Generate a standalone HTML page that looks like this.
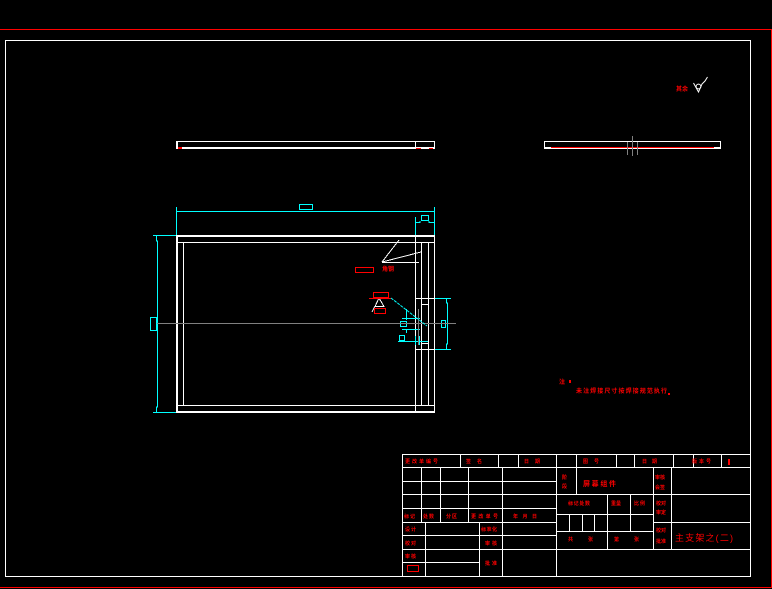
<!DOCTYPE html>
<html><head><meta charset="utf-8"><style>
html,body{margin:0;padding:0;background:#000;width:772px;height:589px;overflow:hidden}
svg{display:block}
text{font-family:"Liberation Sans","Noto Sans CJK SC",sans-serif;font-size:5px;fill:#f00;font-weight:700}
.w{stroke:#fff;fill:none}
.c{stroke:#0ff;fill:none}
.r{stroke:#f00;fill:none}
.g{stroke:#808080;fill:none}
</style></head><body>
<svg width="772" height="589" viewBox="0 0 772 589" xmlns="http://www.w3.org/2000/svg">
<rect width="772" height="589" fill="#000"/>
<g shape-rendering="crispEdges">
<path class="r" d="M0 29.5H771.5V587.5H0"/>
<rect class="w" x="5.5" y="40.5" width="745" height="536"/>

<!-- top view -->
<path class="w" d="M176 141.5H435M434.5 141V149M415.5 141V147"/>
<rect x="176" y="141" width="2" height="8" fill="#fff"/>
<rect x="176" y="147" width="259" height="2" fill="#fff"/>
<rect x="178" y="147" width="4" height="2" fill="#f00"/>
<rect x="416" y="148" width="5" height="1" fill="#f00"/>
<rect x="429" y="148" width="4" height="1" fill="#f00"/>

<!-- side view -->
<path class="w" d="M544 141.5H721M544.5 141V149M720.5 141V149M544 148.5H721M544 147.5H551M714 147.5H721"/>
<rect x="551" y="147" width="163" height="1" fill="#f00"/>
<path class="g" d="M627.5 142V155M632.5 136V156M637.5 142V155"/>

<!-- frame -->
<rect x="176" y="235" width="259" height="2" fill="#fff"/>
<rect x="176" y="411" width="259" height="2" fill="#fff"/>
<rect x="176" y="235" width="2" height="178" fill="#fff"/>
<path class="w" d="M434.5 235V413M178 242.5H434M183.5 242V405M178 405.5H434M415.5 237V411M421.5 242V405M428.5 242V405M415 298.5H434M421 304.5H428M421 343.5H428M415 349.5H434"/>

<!-- leaders -->
<path class="w" d="M382 262.5H419M382 262L399 240M382 262L421 252"/>
<path class="w" d="M379 298L384 306.5H375L379 298M375 306L372 312"/>

<!-- red rectangles -->
<rect class="r" x="355.5" y="267.5" width="18" height="5"/>
<rect class="r" x="373.5" y="292.5" width="15" height="5"/>
<path class="r" d="M369 298.5H391"/>
<rect class="r" x="374.5" y="308.5" width="11" height="5"/>
<rect class="r" x="407.5" y="565.5" width="11" height="6"/>

<!-- dims cyan -->
<path class="c" d="M176.5 207V235M434.5 207V235M177 211.5H434M415.5 217V235M415 222.5H420V221M429 221V222.5H434"/>
<rect class="c" x="299.5" y="204.5" width="13" height="5"/>
<rect class="c" x="421.5" y="215.5" width="7" height="5"/>
<path class="c" d="M153 235.5H176M153 412.5H176M156.5 236V241H157.5V407H156.5V412"/>
<rect class="c" x="150.5" y="317.5" width="6" height="13"/>
<path class="c" d="M435 298.5H451M435 349.5H451M446.5 299V303H447.5V344H446.5V349"/>
<rect class="c" x="441.5" y="320.5" width="4" height="7"/>
<path class="c" d="M402 318.5H420M402 329.5H420M398 341.5H428M406.5 309V320M406.5 330V333M415.5 336V345M419.5 336V345"/>
<rect class="c" x="400.5" y="321.5" width="6" height="5"/>
<rect class="c" x="399.5" y="335.5" width="5" height="5"/>

<!-- centre lines -->
<path class="g" d="M157 323.5H456M418.5 309V345"/>
</g>
<path d="M391 298L427 326" stroke="#0ff" stroke-width="1" stroke-dasharray="3 1" fill="none"/>

<!-- surface mark -->
<path class="w" d="M693.5 83L698.5 92L702 84L705 81L707.5 77" stroke-width="1"/>
<circle class="w" cx="698.5" cy="86.5" r="2.4"/>
<text x="676" y="91" textLength="12" lengthAdjust="spacing" style="font-size:6px">其余</text>

<!-- labels near frame -->
<text x="382" y="271" textLength="12" lengthAdjust="spacing" style="font-size:6px">角钢</text>
<text x="559" y="384" style="font-size:6px">注</text>
<rect x="569" y="380" width="2" height="3" fill="#f00"/>
<text x="576" y="393" textLength="91" lengthAdjust="spacing" style="font-size:6px">未注焊接尺寸按焊接规范执行</text>
<rect x="668" y="393" width="2" height="2" fill="#f00"/>

<!-- title block -->
<g shape-rendering="crispEdges">
<path class="w" d="
M402.5 454.5V576M402 454.5H750M402 467.5H750
M402 481.5H556M402 494.5H750M402 508.5H556M402 522.5H556M402 535.5H556M402 549.5H750M402 562.5H479
M556 514.5H653M556 531.5H653M653 522.5H750
M460.5 454V467M498.5 454V467M518.5 454V467M556.5 454V576M576.5 454V494
M616.5 454V467M634.5 454V467M673.5 454V467M693.5 454V467M721.5 454V467
M421.5 467V522M440.5 467V522M468.5 467V522M502.5 467V576
M425.5 522V576M479.5 522V576
M569.5 514V531M582.5 514V531M594.5 514V531M607.5 494V549M630.5 494V531
M653.5 467V549M671.5 467V549"/>
</g>
<g>
<text x="405" y="463" textLength="33" lengthAdjust="spacing">更改单编号</text>
<text x="466" y="463">签</text><text x="477" y="463">名</text>
<text x="524" y="463">日</text><text x="535" y="463">期</text>
<text x="583" y="463">图</text><text x="594" y="463">号</text>
<text x="642" y="463">日</text><text x="652" y="463">期</text>
<text x="692" y="463" textLength="19" lengthAdjust="spacing">版本号</text>
<rect x="728" y="459" width="2" height="6" fill="#f00"/>
<text x="562" y="479">阶</text><text x="562" y="488">段</text>
<text x="583" y="486" textLength="33" lengthAdjust="spacing" style="font-size:7px">屏幕组件</text>
<text x="655" y="479" textLength="10">审核</text>
<text x="655" y="489" textLength="10">会签</text>
<text x="568" y="505" textLength="22" lengthAdjust="spacing">标记处数</text>
<text x="611" y="505" textLength="10" lengthAdjust="spacing">重量</text>
<text x="634" y="505" textLength="11" lengthAdjust="spacing">比例</text>
<text x="656" y="505" textLength="10">校对</text>
<text x="656" y="514" textLength="10">审定</text>
<text x="656" y="532" textLength="10">校对</text>
<text x="656" y="543" textLength="10">批准</text>
<text x="675" y="541" textLength="58" lengthAdjust="spacing" style="font-size:9px;font-weight:400">主支架之(二)</text>
<text x="404" y="518" textLength="11">标记</text>
<text x="423" y="518" textLength="11">处数</text>
<text x="446" y="518" textLength="11">分区</text>
<text x="471" y="518" textLength="27" lengthAdjust="spacing">更改单号</text>
<text x="513" y="518" textLength="24" lengthAdjust="spacing">年月日</text>
<text x="405" y="531" textLength="11">设计</text>
<text x="481" y="531" textLength="16" lengthAdjust="spacing">标准化</text>
<text x="405" y="545" textLength="11">校对</text>
<text x="485" y="545" textLength="12">审核</text>
<text x="405" y="558" textLength="11">审核</text>
<text x="485" y="565" textLength="12">批准</text>
<text x="568" y="541">共</text><text x="588" y="541">张</text>
<text x="614" y="541">第</text><text x="634" y="541">张</text>
</g>
</svg>
</body></html>
